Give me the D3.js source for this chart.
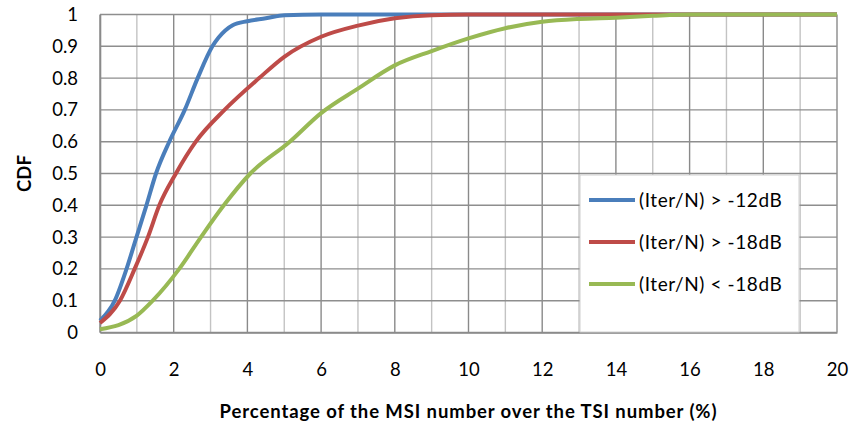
<!DOCTYPE html>
<html>
<head>
<meta charset="utf-8">
<script src="https://cdn.jsdelivr.net/npm/d3@7"></script>
<style>
  body { margin: 0; background: white; font-family: Lato, "Open Sans", sans-serif; }
  svg { display: block; }
</style>
</head>
<body>
<svg id="chart"></svg>
<script>
// data
let seriesNames = ["(Iter/N) > -12dB", "(Iter/N) > -18dB", "(Iter/N) < -18dB"];
let seriesColors = ["#4a7ebb", "#be4b48", "#98b954"];

let blueX = [0, 0.4, 0.72, 0.99, 1.26, 1.52, 1.88, 2.3, 2.65, 3.05, 3.4, 3.6, 4, 4.5, 5, 6, 20];
let blueY = [0.037, 0.1, 0.2, 0.3, 0.4, 0.5, 0.6, 0.7, 0.8, 0.9, 0.95, 0.966, 0.979, 0.988, 0.998, 1, 1];

let redX = [0, 0.54, 0.94, 1.3, 1.61, 2.06, 2.6, 3.38, 4.32, 5, 6, 7, 8, 9, 10, 20];
let redY = [0.03, 0.1, 0.2, 0.3, 0.4, 0.5, 0.6, 0.7, 0.8, 0.867, 0.93, 0.965, 0.988, 0.998, 1, 1];

let greenX = [0, 1, 1.43, 2.15, 2.74, 3.36, 4.08, 5.15, 6, 7, 8, 9, 10, 11, 12, 13, 14, 15, 16, 20];
let greenY = [0.01, 0.053, 0.1, 0.2, 0.3, 0.4, 0.5, 0.6, 0.69, 0.767, 0.84, 0.885, 0.925, 0.957, 0.977, 0.986, 0.99, 0.996, 1, 1];

let xTicks = [0, 2, 4, 6, 8, 10, 12, 14, 16, 18, 20];
let yTicks = [0, 0.1, 0.2, 0.3, 0.4, 0.5, 0.6, 0.7, 0.8, 0.9, 1];

function drawChart() {
    let width = 851, height = 426;
    let margin = { top: 14.5, left: 100, right: 14, bottom: 93.5 };
    let bodyWidth = width - margin.left - margin.right;
    let bodyHeight = height - margin.top - margin.bottom;

    let svg = d3.select("#chart").attr("width", width).attr("height", height);

    let xScale = d3.scaleLinear().domain([0, 20]).range([0, bodyWidth]);
    let yScale = d3.scaleLinear().domain([0, 1]).range([bodyHeight, 0]);

    let body = svg.append("g").attr("transform", `translate(${margin.left},${margin.top})`);

    // vertical grid, odd ones lighter
    body.selectAll(".vgrid")
        .data(d3.range(0, 21))
        .enter().append("line")
        .attr("x1", d => xScale(d)).attr("x2", d => xScale(d))
        .attr("y1", 0).attr("y2", bodyHeight)
        .attr("stroke", d => d % 2 ? "#c3c3c3" : "#8a8a8a")
        .attr("stroke-width", 1.4);

    body.selectAll(".hgrid")
        .data(yTicks)
        .enter().append("line")
        .attr("x1", 0).attr("x2", bodyWidth)
        .attr("y1", d => yScale(d)).attr("y2", d => yScale(d))
        .attr("stroke", "#8e8e8e")
        .attr("stroke-width", 1.4);

    // axes
    let axisX = d3.axisBottom(xScale).tickValues(xTicks).tickSize(0).tickPadding(30);
    let gx = body.append("g").attr("transform", `translate(0,${bodyHeight})`).call(axisX);
    gx.select(".domain").attr("stroke", "#8a8a8a").attr("stroke-width", 1.6);
    gx.selectAll("text").style("font-size", "18.5px").style("font-family", "Lato, sans-serif").attr("fill", "#000");

    let axisY = d3.axisLeft(yScale).tickValues(yTicks).tickSize(0).tickPadding(22)
        .tickFormat(d => d);
    let gy = body.append("g").call(axisY);
    gy.select(".domain").attr("stroke", "#8a8a8a").attr("stroke-width", 1.6);
    gy.selectAll("text").style("font-size", "18.5px").style("font-family", "Lato, sans-serif").attr("fill", "#000");

    // curves
    let allX = [blueX, redX, greenX];
    let allY = [blueY, redY, greenY];
    let line = d3.line()
        .x(d => xScale(d[0]))
        .y(d => yScale(d[1]))
        .curve(d3.curveMonotoneX);

    allX.forEach((xs, i) => {
        let pts = xs.map((x, j) => [x, allY[i][j]]);
        body.append("path")
            .datum(pts)
            .attr("fill", "none")
            .attr("stroke", seriesColors[i])
            .attr("stroke-width", 4)
            .attr("stroke-linejoin", "round")
            .attr("d", line);
    });

    // legend
    let legend = svg.append("g").attr("transform", "translate(580,175)");
    legend.append("rect")
        .attr("width", 219).attr("height", 157)
        .attr("fill", "white")
        .attr("stroke", "#d0d0d0").attr("stroke-width", 1);

    let items = legend.selectAll(".item")
        .data(seriesNames)
        .enter().append("g")
        .attr("transform", (d, i) => `translate(0,${25 + i * 42})`);
    items.append("line")
        .attr("x1", 9).attr("x2", 55)
        .attr("stroke", (d, i) => seriesColors[i])
        .attr("stroke-width", 4);
    items.append("text")
        .attr("x", 59).attr("dy", "0.35em")
        .style("font-size", "19px")
        .style("letter-spacing", "0.6px")
        .text(d => d);

    // titles
    svg.append("text")
        .attr("x", margin.left + bodyWidth / 2).attr("y", 418)
        .attr("text-anchor", "middle")
        .style("font-size", "18.5px").style("font-weight", "bold")
        .style("letter-spacing", "0.9px")
        .text("Percentage of the MSI  number over the TSI number (%)");

    svg.append("text")
        .attr("transform", `translate(31,${margin.top + bodyHeight / 2}) rotate(-90)`)
        .attr("text-anchor", "middle")
        .style("font-size", "18.5px").style("font-weight", "bold")
        .text("CDF");
}

drawChart();
</script>
</body>
</html>
